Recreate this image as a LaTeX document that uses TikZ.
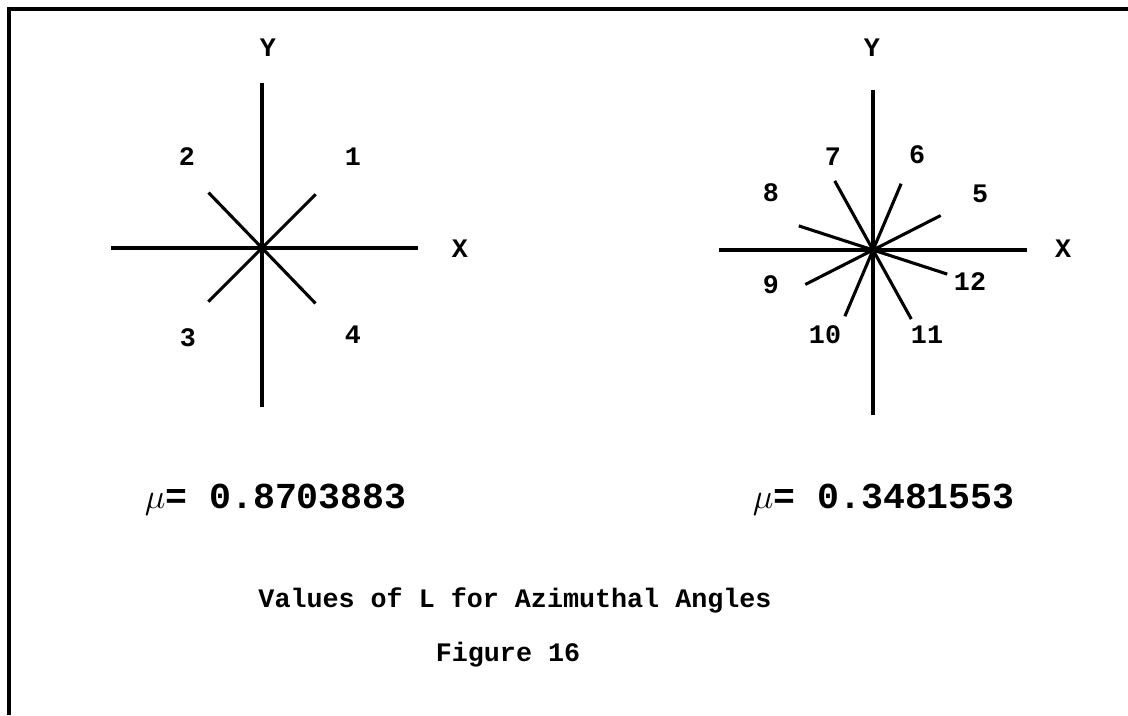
\documentclass[tikz,border=0pt]{standalone}
\usepackage{fontspec}
\setmonofont{Liberation Mono}
\usetikzlibrary{calc,positioning}
\tikzset{
    % typed labels (typewriter face)
    tlabel/.style={font=\ttfamily\bfseries\fontsize{19}{22}\selectfont, inner sep=0pt},
    numlabel/.style={font=\ttfamily\bfseries\fontsize{26}{30}\selectfont, inner sep=0pt},
    % line styles
    axisline/.style={line width=2.2pt, black},
    rayline/.style={line width=2.2pt, black},
    frameline/.style={line width=2.4pt, black},
}
\newcommand{\bigmu}{{\fontsize{36}{36}\selectfont$\mu$}}

\begin{document}
\begin{tikzpicture}[x=0.025cm,y=0.025cm]
  \useasboundingbox (0,0) rectangle (1128,715);
  % page frame (open at right and bottom)
  \draw[frameline] (9,0) -- (9,706) -- (1128,706);

  % left star: mu = 0.8703883
  \coordinate (o1) at (262,467);
  \coordinate (xa1) at (111,467);
  \coordinate (xb1) at (418,467);
  \coordinate (ya1) at (262,632);
  \coordinate (yb1) at (262,308);
  \draw[axisline] (xa1) -- (xb1);
  \draw[axisline] (ya1) -- (yb1);
  \foreach \a/\r in {45/76, 134/77}
    \draw[rayline] ([shift={(\a:\r)}]o1) -- ([shift={(\a+180:\r)}]o1);
  \fill (o1) circle (3);
  \node[tlabel] (y1) at (268,667) {Y};
  \node[tlabel] (x1) at (460,466) {X};
  \node[tlabel] (d1) at (353,558) {1};
  \node[tlabel] (d2) at (187,558) {2};
  \node[tlabel] (d3) at (188,377) {3};
  \node[tlabel] (d4) at (353,380) {4};

  % right star: mu = 0.3481553
  \coordinate (o2) at (873,465);
  \coordinate (xa2) at (719,465);
  \coordinate (xb2) at (1027,465);
  \coordinate (ya2) at (873,625);
  \coordinate (yb2) at (873,300);
  \draw[axisline] (xa2) -- (xb2);
  \draw[axisline] (ya2) -- (yb2);
  \foreach \a/\r in {27/76, 67/72, 119/79, 162/78}
    \draw[rayline] ([shift={(\a:\r)}]o2) -- ([shift={(\a+180:\r)}]o2);
  \fill (o2) circle (3);
  \node[tlabel] (y2) at (872,667) {Y};
  \node[tlabel] (x2) at (1063,466) {X};
  \node[tlabel] (d5) at (980,521) {5};
  \node[tlabel] (d6) at (917,560) {6};
  \node[tlabel] (d7) at (833,558) {7};
  \node[tlabel] (d8) at (771,522) {8};
  \node[tlabel] (d9) at (771,430) {9};
  \node[tlabel] (d10) at (825,380) {10};
  \node[tlabel] (d11) at (927,380) {11};
  \node[tlabel] (d12) at (970,433) {12};

  % mu values
  \node[numlabel, anchor=base east] (mu1) at (407,206) {\bigmu= 0.8703883};
  \node[numlabel, anchor=base east] (mu2) at (1015,206) {\bigmu= 0.3481553};

  % caption
  \node[tlabel] (cap) at (515,115) {Values of L for Azimuthal Angles};
  \node[tlabel] (fig) at (508,60) {Figure 16};
\end{tikzpicture}
\end{document}
